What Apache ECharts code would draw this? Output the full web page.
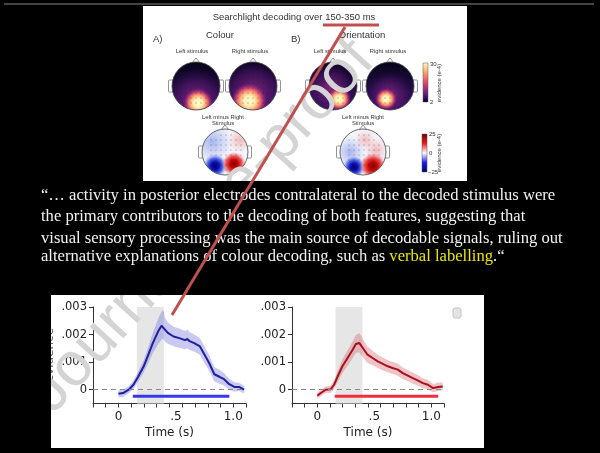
<!DOCTYPE html>
<html>
<head>
<meta charset="utf-8">
<title>Searchlight decoding</title>
<style>
* { margin: 0; padding: 0; }
html, body { width: 100%; height: 100%; background: #000; }
#main { width: 600px; height: 453px; }
</style>
</head>
<body>
<div id="main"></div>
<script src="https://cdn.jsdelivr.net/npm/echarts@6/dist/echarts.min.js"></script>
<script>
// time courses (s, evidence)
const blueT = [0, 0.04, 0.09, 0.13, 0.17, 0.22, 0.26, 0.30, 0.35, 0.375, 0.39, 0.405, 0.43, 0.48, 0.53, 0.58, 0.60, 0.62, 0.66, 0.71, 0.75, 0.79, 0.835, 0.88, 0.92, 0.965, 1.01, 1.05, 1.095];
const blueMean = [-0.00015, -0.00012, 0, 0.00018, 0.00046, 0.00085, 0.00127, 0.0017, 0.00215, 0.00232, 0.00238, 0.00218, 0.00206, 0.00193, 0.00187, 0.0018, 0.00184, 0.00176, 0.00169, 0.00157, 0.00127, 0.00097, 0.00056, 0.00047, 0.00038, 0.0002, 0.0001, 0.0001, 0];
const blueUpper = [-0.00002, 0.00002, 0.00013, 0.00033, 0.00064, 0.00108, 0.00157, 0.00207, 0.00262, 0.00283, 0.0029, 0.00262, 0.00245, 0.00228, 0.00222, 0.00213, 0.00218, 0.00208, 0.002, 0.00187, 0.00157, 0.00125, 0.00082, 0.00072, 0.00061, 0.0004, 0.00027, 0.00025, 0.00014];
const blueLower = [-0.00028, -0.00026, -0.00013, 0.00003, 0.00028, 0.00062, 0.00097, 0.00133, 0.00168, 0.00181, 0.00186, 0.00174, 0.00167, 0.00158, 0.00152, 0.00147, 0.0015, 0.00144, 0.00138, 0.00127, 0.00097, 0.00069, 0.0003, 0.00022, 0.00015, 0, -0.00007, -0.00005, -0.00014];
const blueSig = [0.125, 0.966];

const redT = [0, 0.03, 0.074, 0.118, 0.147, 0.176, 0.22, 0.265, 0.31, 0.338, 0.368, 0.38, 0.41, 0.44, 0.485, 0.53, 0.574, 0.618, 0.66, 0.706, 0.75, 0.794, 0.838, 0.88, 0.926, 0.97, 1.015, 1.06, 1.10];
const redMean = [-0.00022, -0.00012, 0, 0.00002, 0.00018, 0.00046, 0.00085, 0.00115, 0.00145, 0.00166, 0.0017, 0.00163, 0.00145, 0.00127, 0.00115, 0.00103, 0.00094, 0.00085, 0.00079, 0.00073, 0.0006, 0.00051, 0.00042, 0.00034, 0.00024, 0.00018, 0.00006, 0.0001, 0.00012];
const redUpper = [-0.0001, 0, 0.00012, 0.00015, 0.00034, 0.00066, 0.0011, 0.00143, 0.00175, 0.00198, 0.00205, 0.00198, 0.00177, 0.00157, 0.00141, 0.00127, 0.00117, 0.00107, 0.00101, 0.00095, 0.00081, 0.00071, 0.00062, 0.00053, 0.00042, 0.00035, 0.00021, 0.00025, 0.00026];
const redLower = [-0.00034, -0.00024, -0.00012, -0.00011, 0.00002, 0.00026, 0.0006, 0.00087, 0.00115, 0.00134, 0.00135, 0.00128, 0.00113, 0.00097, 0.00089, 0.00079, 0.00071, 0.00063, 0.00057, 0.00051, 0.00039, 0.00031, 0.00022, 0.00015, 0.00006, 0.00001, -0.00009, -0.00005, -0.00002];
const redSig = [0.153, 1.06];

const sigLevel = -0.00024;
const windowSpan = [0.16, 0.395];   // shaded 150-350 ms window
const xTickVals = [-0.222, -0.111, 0, 0.111, 0.222, 0.333, 0.444, 0.556, 0.667, 0.778, 0.889, 1.0, 1.111];
const xLabelVals = [0, 0.5, 1.0];
const xLabelText = ['0', '.5', '1.0'];
const yLabelVals = [0, 0.001, 0.002, 0.003];
const yLabelText = ['0', '.001', '.002', '.003'];

const quoteLines = [
  '“… activity in posterior electrodes contralateral to the decoded stimulus were',
  'the primary contributors to the decoding of both features, suggesting that',
  'visual sensory processing was the main source of decodable signals, ruling out',
  'alternative explanations of colour decoding, such as {y|verbal labelling}.“'
];
</script>
<script>
const chart = echarts.init(document.getElementById('main'));

const pairs = (t, v) => t.map((x, i) => [x, v[i]]);
const pickText = (vals, texts) => v => {
  for (let i = 0; i < vals.length; i++) if (Math.abs(v - vals[i]) < 1e-6) return texts[i];
  return '';
};

function panel(idx, t, mean, upper, lower, sig, lineColor, bandColor, sigColor) {
  return [
    { // shaded window + zero line, drawn lowest
      type: 'line', xAxisIndex: idx, yAxisIndex: idx, data: [], z: 1, silent: true,
      markArea: { silent: true, itemStyle: { color: '#e6e6e6' },
        data: [[{ xAxis: windowSpan[0] }, { xAxis: windowSpan[1] }]] },
      markLine: { silent: true, symbol: 'none', label: { show: false },
        lineStyle: { type: [5, 4], color: '#8a8a8a', width: 1 }, data: [{ yAxis: 0 }] }
    },
    { // error band as one polygon
      type: 'custom', xAxisIndex: idx, yAxisIndex: idx, silent: true, z: 2,
      data: t.map((x, i) => [x, lower[i], upper[i]]),
      encode: { x: 0, y: [1, 2] },
      renderItem: (params, api) => {
        if (params.dataIndex !== 0) return;
        const top = t.map((x, i) => api.coord([x, upper[i]]));
        const bot = t.map((x, i) => api.coord([x, lower[i]])).reverse();
        return { type: 'polygon', shape: { points: top.concat(bot) }, style: { fill: bandColor } };
      }
    },
    {
      type: 'line', xAxisIndex: idx, yAxisIndex: idx, data: pairs(t, mean),
      symbol: 'none', lineStyle: { color: lineColor, width: 2 }, z: 4
    },
    {
      type: 'line', xAxisIndex: idx, yAxisIndex: idx,
      data: [[sig[0], sigLevel], [sig[1], sigLevel]],
      symbol: 'none', lineStyle: { color: sigColor, width: 3 }, z: 3
    }
  ];
}

function xAxis(idx) {
  return {
    type: 'value', gridIndex: idx, min: -0.222, max: 1.111,
    axisLine: { show: true, onZero: false, lineStyle: { color: '#333', width: 1 } },
    axisTick: { show: true, length: 4, customValues: xTickVals, lineStyle: { color: '#333' } },
    axisLabel: { customValues: xLabelVals, formatter: pickText(xLabelVals, xLabelText),
      fontSize: 12, color: '#222', fontFamily: 'DejaVu Sans', margin: 7 },
    splitLine: { show: false },
    name: 'Time (s)', nameLocation: 'middle', nameGap: 23,
    nameTextStyle: { fontSize: 12, color: '#222', fontFamily: 'DejaVu Sans' }
  };
}
function yAxis(idx) {
  return {
    type: 'value', gridIndex: idx, min: -0.0005, max: 0.003,
    axisLine: { show: true, onZero: false, lineStyle: { color: '#333', width: 1 } },
    axisTick: { show: true, length: 4, customValues: yLabelVals, lineStyle: { color: '#333' } },
    axisLabel: { customValues: yLabelVals, formatter: pickText(yLabelVals, yLabelText),
      fontSize: 11.5, color: '#222', fontFamily: 'DejaVu Sans', margin: 6 },
    splitLine: { show: false },
    name: idx === 0 ? 'Evidence' : '', nameLocation: 'middle', nameGap: 37,
    nameTextStyle: { fontSize: 12, color: '#666', fontFamily: 'DejaVu Sans' }
  };
}

// ---- slide graphics ----
const G = [];
const txt = (x, y, text, size, extra) => G.push(Object.assign({
  type: 'text', x: x, y: y, z: 20, silent: true,
  style: Object.assign({ text: text, fontSize: size, fontFamily: 'Liberation Sans',
    fill: '#333', align: 'center', verticalAlign: 'middle' }, extra || {})
}));
const box = (x, y, w, h, fill, z) => G.push({ type: 'rect', shape: { x: x, y: y, width: w, height: h },
  style: { fill: fill }, z: z, silent: true });

box(143, 6, 324, 175, '#fff', -5);
box(51, 295, 433, 153, '#fff', -5);

txt(294, 17, 'Searchlight decoding over 150-350 ms', 9.5);
txt(153, 39, 'A)', 9.5, { align: 'left' });
txt(220, 35, 'Colour', 9.5);
txt(291, 39, 'B)', 9.5, { align: 'left' });
txt(362, 35, 'Orientation', 9.5);
txt(192, 51, 'Left stimulus', 5.8);
txt(250, 51, 'Right stimulus', 5.8);
txt(330, 51, 'Left stimulus', 5.8);
txt(388, 51, 'Right stimulus', 5.8);
txt(223, 117, 'Left minus Right', 5.8);
txt(223, 123, 'Stimulus', 5.8);
txt(363, 117, 'Left minus Right', 5.8);
txt(363, 123, 'Stimulus', 5.8);

function radial(x, y, r, stops) {
  return { type: 'radial', x: x, y: y, r: r, global: true,
    colorStops: stops.map(s => ({ offset: s[0], color: s[1] })) };
}
const magma = [[0, '#fffbd2'], [0.3, '#fdf0b0'], [0.5, '#fdae78'], [0.68, '#e0566a'], [0.85, 'rgba(160,45,125,0.6)'], [1, 'rgba(110,25,110,0)']];
const glow = [[0, 'rgba(150,45,130,0.85)'], [0.6, 'rgba(95,25,120,0.5)'], [1, 'rgba(60,15,100,0)']];
const blueBlob = [[0, '#00006a'], [0.35, '#0b12b0'], [0.65, '#5468ea'], [1, 'rgba(140,155,240,0)']];
const redBlob = [[0, '#860000'], [0.35, '#c40808'], [0.65, '#f05252'], [1, 'rgba(240,140,140,0)']];
const blueWash = [[0, 'rgba(140,160,235,0.75)'], [1, 'rgba(150,170,240,0)']];
const redWash = [[0, 'rgba(240,160,160,0.7)'], [1, 'rgba(240,170,170,0)']];

function head(cx, cy, r, base, layers) {
  const ln = { stroke: '#666', lineWidth: 0.7 };
  G.push({ type: 'rect', shape: { x: cx - r - 3.5, y: cy - 6, width: 5, height: 12, r: 1 }, style: Object.assign({ fill: '#fff' }, ln), z: 5, silent: true });
  G.push({ type: 'rect', shape: { x: cx + r - 1.5, y: cy - 6, width: 5, height: 12, r: 1 }, style: Object.assign({ fill: '#fff' }, ln), z: 5, silent: true });
  G.push({ type: 'polygon', shape: { points: [[cx - 4, cy - r + 1], [cx, cy - r - 4], [cx + 4, cy - r + 1]] }, style: Object.assign({ fill: '#fff' }, ln), z: 5, silent: true });
  G.push({ type: 'circle', shape: { cx: cx, cy: cy, r: r }, style: { fill: base }, z: 6, silent: true });
  layers.forEach(l => G.push({ type: 'circle', shape: { cx: cx, cy: cy, r: r },
    style: { fill: radial(l[0], l[1], l[2], l[3]) }, z: 7, silent: true }));
  for (let dy = -r + 6; dy < r - 3; dy += 5) {
    for (let dx = -r + 4; dx < r - 3; dx += 5) {
      if (dx * dx + dy * dy < (r - 4) * (r - 4)) {
        G.push({ type: 'circle', shape: { cx: cx + dx, cy: cy + dy, r: 0.45 }, style: { fill: '#222' }, z: 8, silent: true });
      }
    }
  }
  G.push({ type: 'circle', shape: { cx: cx, cy: cy, r: r }, style: { fill: null, stroke: '#444', lineWidth: 0.8 }, z: 9, silent: true });
}
const darkBase = { type: 'linear', x: 0, y: 0, x2: 0, y2: 1,
  colorStops: [{ offset: 0, color: '#07031a' }, { offset: 0.5, color: '#1e0b3e' }, { offset: 1, color: '#3a1363' }] };
const lightBase = '#f3f3fa';

head(196, 86, 24, darkBase, [[196, 99, 30, glow], [198, 103, 15, magma]]);
head(253, 86, 24, darkBase, [[253, 93, 34, glow], [249, 101, 18, magma]]);
head(333, 86, 24, darkBase, [[330, 88, 26, glow], [339, 99, 12, magma]]);
head(390, 86, 24, darkBase, [[389, 95, 24, glow], [386, 99, 11, magma]]);
head(225, 152, 23, lightBase, [[212, 142, 20, blueWash], [240, 140, 12, redWash], [215, 166, 12, blueBlob], [234, 164, 12, redBlob]]);
head(363, 152, 23, lightBase, [[350, 152, 15, blueWash], [365, 140, 10, redWash], [376, 150, 12, redWash], [354, 167, 11, blueBlob], [373, 166, 13, redBlob]]);

// colour bars
G.push({ type: 'rect', shape: { x: 423, y: 63, width: 5, height: 39 }, z: 10, silent: true,
  style: { stroke: '#555', lineWidth: 0.5, fill: { type: 'linear', x: 0, y: 0, x2: 0, y2: 1,
    colorStops: [{ offset: 0, color: '#fcfdbf' }, { offset: 0.25, color: '#fe9f6d' }, { offset: 0.5, color: '#de4968' },
      { offset: 0.7, color: '#8c2981' }, { offset: 0.88, color: '#3b0f70' }, { offset: 1, color: '#000004' }] } } });
G.push({ type: 'rect', shape: { x: 422, y: 134, width: 5, height: 38 }, z: 10, silent: true,
  style: { stroke: '#555', lineWidth: 0.5, fill: { type: 'linear', x: 0, y: 0, x2: 0, y2: 1,
    colorStops: [{ offset: 0, color: '#6a0000' }, { offset: 0.25, color: '#f01818' }, { offset: 0.5, color: '#ffffff' },
      { offset: 0.75, color: '#1a1af0' }, { offset: 1, color: '#00006a' }] } } });
txt(430, 64, '30', 6, { align: 'left' });
txt(430, 102, '2', 6, { align: 'left' });
txt(429, 134, '25', 6, { align: 'left' });
txt(429, 153, '0', 6, { align: 'left' });
txt(428, 172, '\u221225', 6, { align: 'left' });
G.push({ type: 'text', x: 439, y: 83, rotation: Math.PI / 2, z: 20, silent: true,
  style: { text: 'evidence (e-4)', fontSize: 6, fontFamily: 'Liberation Sans', fill: '#333', align: 'center', verticalAlign: 'middle' } });
G.push({ type: 'text', x: 439, y: 153, rotation: Math.PI / 2, z: 20, silent: true,
  style: { text: 'evidence (e-4)', fontSize: 6, fontFamily: 'Liberation Sans', fill: '#333', align: 'center', verticalAlign: 'middle' } });

// small grey widget at the right of the red panel
G.push({ type: 'rect', shape: { x: 453, y: 308, width: 8, height: 10, r: 2 }, style: { fill: '#e4e4e4', stroke: '#c4c4c4', lineWidth: 1 }, z: 20, silent: true });

// watermark, then black masks so it only shows on the white boxes
G.push({ type: 'text', x: 202, y: 227, rotation: 0.83, z: 12, silent: true,
  style: { text: 'Journal Pre-proof', fontSize: 62, fontFamily: 'Liberation Sans', fill: '#d4d4d4',
    align: 'center', verticalAlign: 'middle' } });
box(0, 0, 600, 6, '#000', 13);
box(0, 6, 143, 175, '#000', 13);
box(467, 6, 133, 175, '#000', 13);
box(0, 181, 600, 114, '#000', 13);
box(0, 295, 51, 153, '#000', 13);
box(484, 295, 116, 153, '#000', 13);
box(0, 448, 600, 5, '#000', 13);
G.push({ type: 'line', shape: { x1: 4, y1: 4, x2: 594, y2: 4 }, style: { stroke: '#5a5a5a', lineWidth: 1.5 }, z: 14, silent: true });

// quoted passage
const lineY = [196, 217, 239, 257];
quoteLines.forEach((s, i) => G.push({ type: 'text', x: 41, y: lineY[i], z: 20, silent: true,
  style: { text: s, fontSize: 16.6, fontFamily: 'Liberation Serif', fill: '#f2f2f2',
    align: 'left', verticalAlign: 'middle', rich: { y: { fill: '#e8e800', fontSize: 16.6, fontFamily: 'Liberation Serif' } } } }));

// red pointer
G.push({ type: 'line', shape: { x1: 323, y1: 25, x2: 379, y2: 25 }, style: { stroke: '#c0504d', lineWidth: 3 }, z: 60, silent: true });
G.push({ type: 'line', shape: { x1: 345, y1: 27, x2: 172, y2: 315 }, style: { stroke: '#c0504d', lineWidth: 3 }, z: 60, silent: true });

chart.setOption({
  backgroundColor: '#000',
  animation: false,
  grid: [
    { left: 93, top: 307, width: 153, height: 96.5 },
    { left: 292, top: 307, width: 152, height: 96.5 }
  ],
  xAxis: [xAxis(0), xAxis(1)],
  yAxis: [yAxis(0), yAxis(1)],
  series: [].concat(
    panel(0, blueT, blueMean, blueUpper, blueLower, blueSig, '#1f1fa0', 'rgba(112,112,222,0.38)', '#3838ea'),
    panel(1, redT, redMean, redUpper, redLower, redSig, '#a8101c', 'rgba(214,100,112,0.38)', '#f0303c')
  ),
  graphic: { elements: G }
});
</script>
</body>
</html>
